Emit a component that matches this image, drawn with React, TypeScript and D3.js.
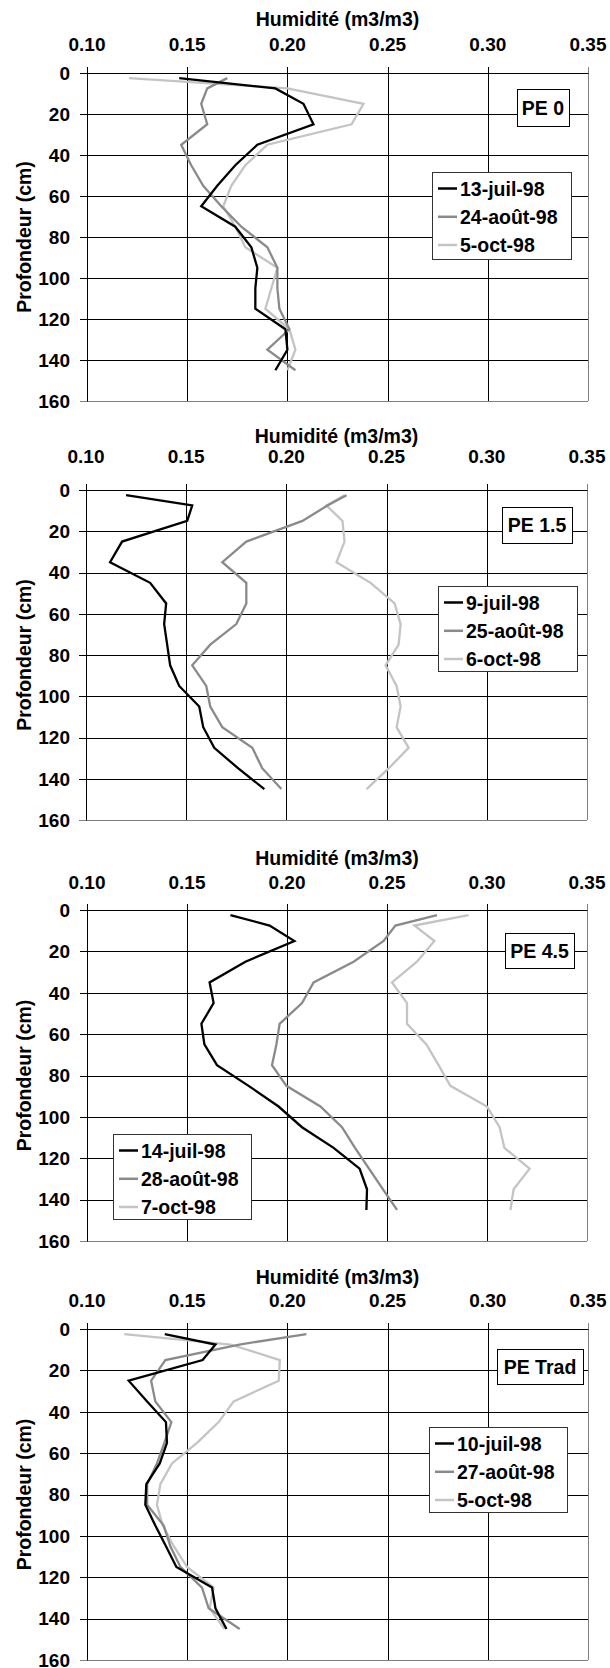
import React from "react";
import * as d3 from "d3";

const W = 610;
const H = 1668;

// ---- data ----
const depths = [2.5, 7.5, 15, 25, 35, 45, 55, 65, 75, 85, 95, 105, 115, 125, 135, 145];
const humidityTicks = [0.1, 0.15, 0.2, 0.25, 0.3, 0.35];
const depthTicks = [0, 20, 40, 60, 80, 100, 120, 140, 160];
const panelNames = ["PE 0", "PE 1.5", "PE 4.5", "PE Trad"];
const xTitle = "Humidité (m3/m3)";
const yTitle = "Profondeur (cm)";

const pe0Dates = ["13-juil-98", "24-août-98", "5-oct-98"];
const pe0Juil = [0.146, 0.194, 0.208, 0.213, 0.185, 0.174, 0.165, 0.157, 0.174, 0.182, 0.185, 0.184, 0.184, 0.199, 0.2, 0.194];
const pe0Aout = [0.17, 0.16, 0.157, 0.16, 0.147, 0.152, 0.158, 0.167, 0.177, 0.19, 0.195, 0.195, 0.196, 0.201, 0.19, 0.204];
const pe0Oct = [0.121, 0.2, 0.238, 0.232, 0.19, 0.179, 0.172, 0.168, 0.174, 0.179, 0.195, 0.192, 0.189, 0.201, 0.204, 0.2];

const pe15Dates = ["9-juil-98", "25-août-98", "6-oct-98"];
const pe15Juil = [0.12, 0.153, 0.1505, 0.118, 0.112, 0.132, 0.14, 0.139, 0.1405, 0.142, 0.1465, 0.1565, 0.1585, 0.164, 0.176, 0.189];
const pe15Aout = [0.23, 0.2205, 0.208, 0.18, 0.168, 0.18, 0.18, 0.175, 0.162, 0.153, 0.16, 0.162, 0.168, 0.183, 0.188, 0.1975];
const pe15Oct = [0.229, 0.22, 0.228, 0.229, 0.225, 0.242, 0.254, 0.257, 0.256, 0.2495, 0.255, 0.257, 0.255, 0.261, 0.251, 0.24];

const pe45Dates = ["14-juil-98", "28-août-98", "7-oct-98"];
const pe45Juil = [0.1717, 0.1913, 0.2037, 0.1792, 0.1613, 0.1633, 0.1572, 0.1587, 0.165, 0.1808, 0.1958, 0.2075, 0.2233, 0.2363, 0.24, 0.2397];
const pe45Aout = [0.275, 0.2542, 0.2483, 0.2333, 0.2133, 0.2075, 0.1963, 0.1947, 0.1925, 0.1997, 0.2167, 0.2275, 0.234, 0.241, 0.248, 0.255];
const pe45Oct = [0.2908, 0.2637, 0.2737, 0.265, 0.2525, 0.26, 0.26, 0.2697, 0.2758, 0.2817, 0.3, 0.3063, 0.3087, 0.3213, 0.3133, 0.3117];

const peTradDates = ["10-juil-98", "27-août-98", "5-oct-98"];
const peTradJuil = [0.1388, 0.1641, 0.1577, 0.1208, 0.13, 0.1394, 0.1399, 0.1363, 0.1296, 0.1291, 0.1341, 0.1394, 0.1446, 0.1624, 0.1641, 0.1696];
const peTradAout = [0.2095, 0.176, 0.1391, 0.132, 0.1341, 0.1421, 0.1386, 0.1349, 0.13, 0.13, 0.1383, 0.1416, 0.1466, 0.1574, 0.1607, 0.1762];
const peTradOct = [0.1186, 0.1716, 0.1962, 0.1957, 0.1732, 0.1657, 0.1549, 0.1424, 0.1366, 0.1349, 0.1378, 0.1433, 0.1499, 0.1632, 0.1612, 0.1686];

const seriesColors = ["#000000", "#8a8a8a", "#c4c4c4"];

const panelsData = [
  { name: panelNames[0], dates: pe0Dates, series: [pe0Juil, pe0Aout, pe0Oct] },
  { name: panelNames[1], dates: pe15Dates, series: [pe15Juil, pe15Aout, pe15Oct] },
  { name: panelNames[2], dates: pe45Dates, series: [pe45Juil, pe45Aout, pe45Oct] },
  { name: panelNames[3], dates: peTradDates, series: [peTradJuil, peTradAout, peTradOct] },
];

// ---- layout ----
const layout = [
  { top: 73, bottom: 401, left: 87, right: 588, titleY: 26, tickY: 50.5,
    label: { x: 517, y: 89, w: 52, h: 37 }, legend: { x: 432, y: 172, w: 139, h: 87 } },
  { top: 490, bottom: 820, left: 86, right: 587, titleY: 442.5, tickY: 463,
    label: { x: 502, y: 507, w: 70, h: 36 }, legend: { x: 438, y: 586, w: 139, h: 85 } },
  { top: 910, bottom: 1241, left: 87, right: 587, titleY: 865, tickY: 888.5,
    label: { x: 505, y: 933, w: 69, h: 35 }, legend: { x: 113, y: 1134, w: 138, h: 85 } },
  { top: 1329, bottom: 1660, left: 87, right: 588, titleY: 1283.5, tickY: 1306.5,
    label: { x: 497, y: 1349, w: 86, h: 35 }, legend: { x: 429, y: 1427, w: 138, h: 85 } },
];

const FONT = "'Liberation Sans', Arial, Helvetica, sans-serif";
const TICK_FS = 19;
const TITLE_FS = 19.5;
const LEG_FS = 19.5;

function Panel({ data, lay }: { data: any; lay: any }) {
  const x = d3.scaleLinear().domain([0.1, 0.35]).range([lay.left, lay.right]);
  const y = d3.scaleLinear().domain([0, 160]).range([lay.top, lay.bottom]);
  const line = d3
    .line<[number, number]>()
    .x((d) => x(d[0]))
    .y((d) => y(d[1]));
  const cx = (lay.left + lay.right) / 2;
  const cy = (lay.top + lay.bottom) / 2;
  const px = (v: number) => Math.round(v) + 0.5;
  const rowOffsets = [16.5, 44.8, 73];
  return (
    <g>
      {/* horizontal grid */}
      {depthTicks.map((t, i) => (
        <line key={"h" + t} x1={lay.left - 7} x2={lay.right} y1={px(y(t))} y2={px(y(t))}
          stroke={i === depthTicks.length - 1 ? "#808080" : "#000"} strokeWidth={1} />
      ))}
      {/* vertical grid */}
      {humidityTicks.map((t, i) => (
        <line key={"v" + t} x1={px(x(t))} x2={px(x(t))} y1={lay.top - 6} y2={lay.bottom}
          stroke={i === humidityTicks.length - 1 ? "#808080" : "#000"} strokeWidth={1} />
      ))}
      {/* top & left axis lines */}
      <line x1={px(lay.left)} x2={px(lay.right)} y1={px(lay.top)} y2={px(lay.top)} stroke="#000" />
      <line x1={px(lay.left)} x2={px(lay.left)} y1={px(lay.top)} y2={px(lay.bottom)} stroke="#000" />
      {/* x tick labels */}
      {humidityTicks.map((t) => (
        <text key={"xt" + t} x={x(t)} y={lay.tickY} textAnchor="middle" fontFamily={FONT}
          fontWeight="bold" fontSize={TICK_FS} fill="#000">{d3.format(".2f")(t)}</text>
      ))}
      {/* y tick labels */}
      {depthTicks.map((t) => (
        <text key={"yt" + t} x={70} y={y(t) + 6.8} textAnchor="end" fontFamily={FONT}
          fontWeight="bold" fontSize={TICK_FS} fill="#000">{t}</text>
      ))}
      {/* axis titles */}
      <text x={cx} y={lay.titleY} textAnchor="middle" fontFamily={FONT} fontWeight="bold"
        fontSize={TITLE_FS} fill="#000">{xTitle}</text>
      <text transform={`translate(31,${cy}) rotate(-90)`} textAnchor="middle" fontFamily={FONT}
        fontWeight="bold" fontSize={TITLE_FS} fill="#000">{yTitle}</text>
      {/* series */}
      {data.series.map((vals: number[], i: number) => (
        <path key={"s" + i}
          d={line(vals.map((v, j) => [v, depths[j]] as [number, number])) || ""}
          fill="none" stroke={seriesColors[i]} strokeWidth={2.3} strokeLinejoin="miter" />
      )).reverse()}
      {/* panel label */}
      <rect x={px(lay.label.x)} y={px(lay.label.y)} width={lay.label.w} height={lay.label.h}
        fill="#fff" stroke="#000" strokeWidth={1} />
      <text x={lay.label.x + lay.label.w / 2} y={lay.label.y + lay.label.h / 2 + 7}
        textAnchor="middle" fontFamily={FONT} fontWeight="bold" fontSize={LEG_FS} fill="#000">
        {data.name}
      </text>
      {/* legend */}
      <rect x={px(lay.legend.x)} y={px(lay.legend.y)} width={lay.legend.w} height={lay.legend.h}
        fill="#fff" stroke="#333" strokeWidth={1} />
      {data.dates.map((d: string, i: number) => (
        <g key={"l" + i}>
          <line x1={lay.legend.x + 6} x2={lay.legend.x + 25} y1={lay.legend.y + rowOffsets[i]}
            y2={lay.legend.y + rowOffsets[i]} stroke={seriesColors[i]} strokeWidth={2.5} />
          <text x={lay.legend.x + 28} y={lay.legend.y + rowOffsets[i] + 7} fontFamily={FONT}
            fontWeight="bold" fontSize={LEG_FS} fill="#000">{d}</text>
        </g>
      ))}
    </g>
  );
}

export default function App() {
  return (
    <svg width={W} height={H} viewBox={`0 0 ${W} ${H}`}
      style={{ position: "absolute", left: 0, top: 0, background: "#fff" }}>
      <rect x={0} y={0} width={W} height={H} fill="#fff" />
      {panelsData.map((p, i) => (
        <Panel key={p.name} data={p} lay={layout[i]} />
      ))}
    </svg>
  );
}
